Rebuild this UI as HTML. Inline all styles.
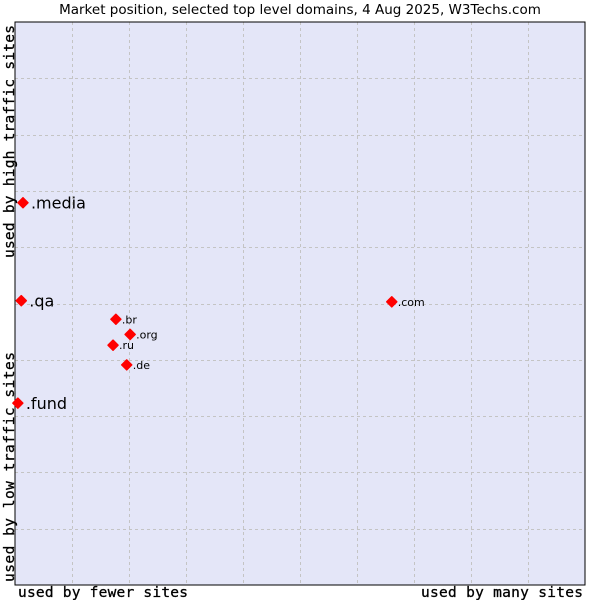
<!DOCTYPE html>
<html><head><meta charset="utf-8"><style>
body{margin:0;background:#fff;}
svg{display:block;}
</style></head><body>
<svg width="600" height="600" viewBox="0 0 600 600">
<text x="300" y="14" text-anchor="middle" font-family="DejaVu Sans, Liberation Sans, sans-serif" font-size="13.5" fill="#000">Market position, selected top level domains, 4 Aug 2025, W3Techs.com</text>
<rect x="15" y="22" width="570" height="563" fill="#e4e6f8"/>
<g id="grid"></g>
<rect x="15" y="22" width="570" height="563" fill="none" stroke="#000" stroke-width="1"/>
<g id="points"></g>
<text x="18" y="597" textLength="170" font-family="DejaVu Sans Mono, Liberation Mono, monospace" font-size="14.5" stroke="#000" stroke-width="0.3">used by fewer sites</text>
<text x="421" y="597" textLength="162" font-family="DejaVu Sans Mono, Liberation Mono, monospace" font-size="14.5" stroke="#000" stroke-width="0.3">used by many sites</text>
<text transform="translate(14,582) rotate(-90)" textLength="230" font-family="DejaVu Sans Mono, Liberation Mono, monospace" font-size="14.5" stroke="#000" stroke-width="0.3">used by low traffic sites</text>
<text transform="translate(14,258) rotate(-90)" textLength="233" font-family="DejaVu Sans Mono, Liberation Mono, monospace" font-size="14.5" stroke="#000" stroke-width="0.3">used by high traffic sites</text>
</svg>
<script>
const labels = [".media", ".qa", ".fund", ".com", ".br", ".org", ".ru", ".de"];
const xValues = [1.4, 1.1, 0.5, 66.1, 17.7, 20.2, 17.2, 19.6];
const yValues = [67.9, 50.5, 32.3, 50.3, 47.2, 44.5, 42.6, 39.1];
const bigLabel = [true, true, true, false, false, false, false, false];
const X0 = 15, X1 = 585, Y0 = 585, Y1 = 22;
const sx = v => X0 + v / 100 * (X1 - X0);
const sy = v => Y0 - v / 100 * (Y0 - Y1);
const NS = "http://www.w3.org/2000/svg";
const grid = document.getElementById("grid");
for (let i = 1; i < 10; i++) {
  const v = document.createElementNS(NS, "line");
  
  
  const x = Math.round(sx(i * 10)) + 0.5;
  v.setAttribute("x1", x); v.setAttribute("x2", x); v.setAttribute("y1", Y1); v.setAttribute("y2", Y0);
  v.setAttribute("stroke", "#c4c4c4"); v.setAttribute("stroke-dasharray", "3,3");
  grid.appendChild(v);
  const h = document.createElementNS(NS, "line");
  
  
  const y = Math.round(sy(i * 10)) + 0.5;
  h.setAttribute("x1", X0); h.setAttribute("x2", X1); h.setAttribute("y1", y); h.setAttribute("y2", y);
  h.setAttribute("stroke", "#c4c4c4"); h.setAttribute("stroke-dasharray", "3,3");
  grid.appendChild(h);
}
const pts = document.getElementById("points");
labels.forEach((lab, i) => {
  const x = sx(xValues[i]), y = sy(yValues[i]);
  const d = document.createElementNS(NS, "polygon");
  
  
  d.setAttribute("points", `${x},${y-5} ${x+5},${y} ${x},${y+5} ${x-5},${y}`);
  d.setAttribute("fill", "#f00");
  d.setAttribute("stroke", "#f00");
  d.setAttribute("stroke-width", "1.5");
  d.setAttribute("stroke-linejoin", "round");
  pts.appendChild(d);
  const t = document.createElementNS(NS, "text");
  
  
  const big = bigLabel[i];
  t.setAttribute("x", x + (big ? 8 : 6));
  t.setAttribute("y", y + (big ? 6 : 4));
  t.setAttribute("font-family", "DejaVu Sans, Liberation Sans, sans-serif");
  t.setAttribute("font-size", big ? "16" : "11");
  t.textContent = lab;
  pts.appendChild(t);
});
</script>
</body></html>
